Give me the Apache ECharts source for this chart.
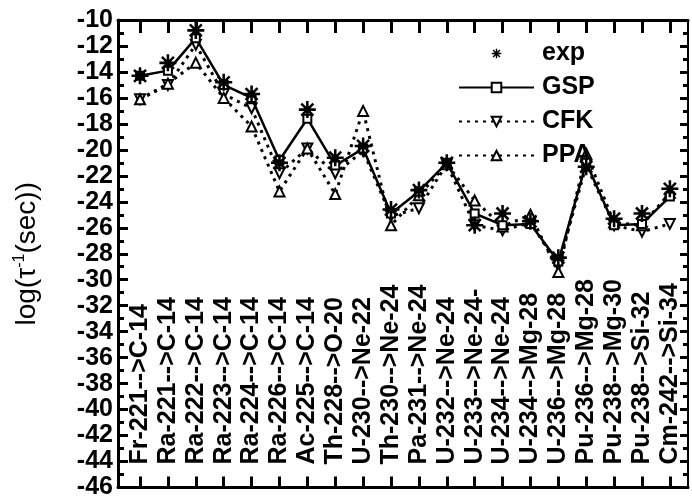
<!DOCTYPE html>
<html><head><meta charset="utf-8">
<script src="https://cdn.jsdelivr.net/npm/echarts@6/dist/echarts.min.js"></script>
<style>html,body{margin:0;padding:0;background:#fff}#c{width:692px;height:500px}</style>
</head><body><div id="c"></div>
<script>
const categories = ['Fr-221-->C-14','Ra-221-->C-14','Ra-222-->C-14','Ra-223-->C-14','Ra-224-->C-14','Ra-226-->C-14','Ac-225-->C-14','Th-228-->O-20','U-230-->Ne-22','Th-230-->Ne-24','Pa-231-->Ne-24','U-232-->Ne-24','U-233-->Ne-24-','U-234-->Ne-24','U-234-->Mg-28','U-236-->Mg-28','Pu-236-->Mg-28','Pu-238-->Mg-30','Pu-238-->Si-32','Cm-242-->Si-34'];
const expVals = [-14.3,-13.3,-10.8,-14.8,-15.7,-21.0,-16.9,-20.6,-19.7,-24.6,-23.1,-21.0,-25.8,-24.9,-25.5,-28.3,-21.3,-25.3,-24.9,-23.0];
const gspVals = [-14.3,-13.9,-11.4,-15.0,-16.0,-20.8,-17.6,-21.2,-19.9,-24.9,-23.2,-21.0,-24.9,-25.8,-25.7,-28.6,-21.0,-25.8,-25.7,-23.6];
const cfkVals = [-16.1,-15.0,-11.9,-15.7,-16.8,-21.8,-19.9,-21.8,-20.1,-25.1,-24.5,-21.1,-25.8,-26.2,-25.6,-28.9,-21.2,-25.8,-26.3,-25.7];
const ppaVals = [-16.1,-14.9,-13.3,-16.0,-18.2,-23.2,-19.9,-23.4,-17.0,-25.8,-23.5,-21.1,-23.9,-25.9,-25.0,-29.4,-20.3,-25.6,-25.8,-23.3];
const seriesNames = ['exp','GSP','CFK','PPA'];
const yMin = -46, yMax = -10, yStep = 2;

const idx = categories.map((_, i) => i);
const pairs = vals => vals.map((v, i) => [i, v]);
const FONT = '"Liberation Sans", Arial, sans-serif';
const star = 'path://M-1.5,-10L1.5,-10L1.5,10L-1.5,10Z M-10,-1.5L10,-1.5L10,1.5L-10,1.5Z M8.1,6.0L6.0,8.1L-8.1,-6.0L-6.0,-8.1Z M-6.0,8.1L-8.1,6.0L6.0,-8.1L8.1,-6.0Z';
const openItem = {color:'#fff', borderColor:'#000', borderWidth:2};

const chart = echarts.init(document.getElementById('c'));
const xCommon = {
  type:'value', min:-0.79, max:19.65,
  splitLine:{show:false},
  axisLine:{show:true, onZero:false, lineStyle:{color:'#000', width:3}},
};
const yCommon = {
  type:'value', min:yMin, max:yMax, interval:yStep,
  splitLine:{show:false},
  axisLine:{show:true, onZero:false, lineStyle:{color:'#000', width:3}},
};
chart.setOption({
  animation:false,
  backgroundColor:'#fff',
  grid:{left:118, right:4, top:20, bottom:9},
  legend:{
    orient:'vertical', left:453, top:36,
    itemWidth:75, itemHeight:12, itemGap:9,
    data:seriesNames,
    textStyle:{fontFamily:FONT, fontSize:25, fontWeight:'bold', color:'#000', lineHeight:25, padding:[0,0,0,3]}
  },
  xAxis:[
    Object.assign({}, xCommon, {
      position:'bottom',
      axisTick:{show:true, inside:true, length:11, customValues:idx, lineStyle:{color:'#000', width:3}},
      axisLabel:{show:true, inside:true, rotate:90, margin:23, customValues:idx,
        formatter: v => categories[Math.round(v)] || '',
        fontFamily:FONT, fontSize:25, fontWeight:'bold', color:'#000'}
    }),
    Object.assign({}, xCommon, {
      position:'top',
      axisTick:{show:true, inside:true, length:13, customValues:idx, lineStyle:{color:'#000', width:3}},
      axisLabel:{show:false}
    })
  ],
  yAxis:[
    Object.assign({}, yCommon, {
      position:'left',
      name:'log(τ{sup|-1}(sec))', nameLocation:'middle', nameGap:76,
      nameTextStyle:{fontFamily:FONT, fontSize:28, color:'#000',
        rich:{sup:{fontFamily:FONT, fontSize:16, color:'#000', verticalAlign:'top', padding:[0,0,14,0]}}},
      axisTick:{show:true, inside:true, length:10, lineStyle:{color:'#000', width:3}},
      minorTick:{show:true, splitNumber:2, length:6, lineStyle:{color:'#000', width:3}},
      axisLabel:{margin:5, fontFamily:FONT, fontSize:25, fontWeight:'bold', color:'#000'}
    }),
    Object.assign({}, yCommon, {
      position:'right',
      axisLine:{show:true, onZero:false, lineStyle:{color:'#000', width:2}},
      axisTick:{show:true, inside:true, length:8, lineStyle:{color:'#000', width:3}},
      minorTick:{show:true, splitNumber:2, length:5, lineStyle:{color:'#000', width:3}},
      axisLabel:{show:false}
    })
  ],
  series:[
    {name:'exp', type:'line', data:pairs(expVals), symbol:star, symbolSize:17,
      lineStyle:{width:0, opacity:0}, itemStyle:{color:'#000'}, z:5},
    {name:'GSP', type:'line', data:pairs(gspVals), symbol:'rect', symbolSize:8,
      lineStyle:{color:'#000', width:2.5}, itemStyle:openItem, z:4},
    {name:'CFK', type:'line', data:pairs(cfkVals), symbol:'triangle', symbolRotate:180, symbolSize:10,
      lineStyle:{color:'#000', width:3, type:[3,5]}, itemStyle:openItem, z:3},
    {name:'PPA', type:'line', data:pairs(ppaVals), symbol:'triangle', symbolSize:10,
      lineStyle:{color:'#000', width:3, type:[3,5]}, itemStyle:openItem, z:3}
  ]
});
</script></body></html>
